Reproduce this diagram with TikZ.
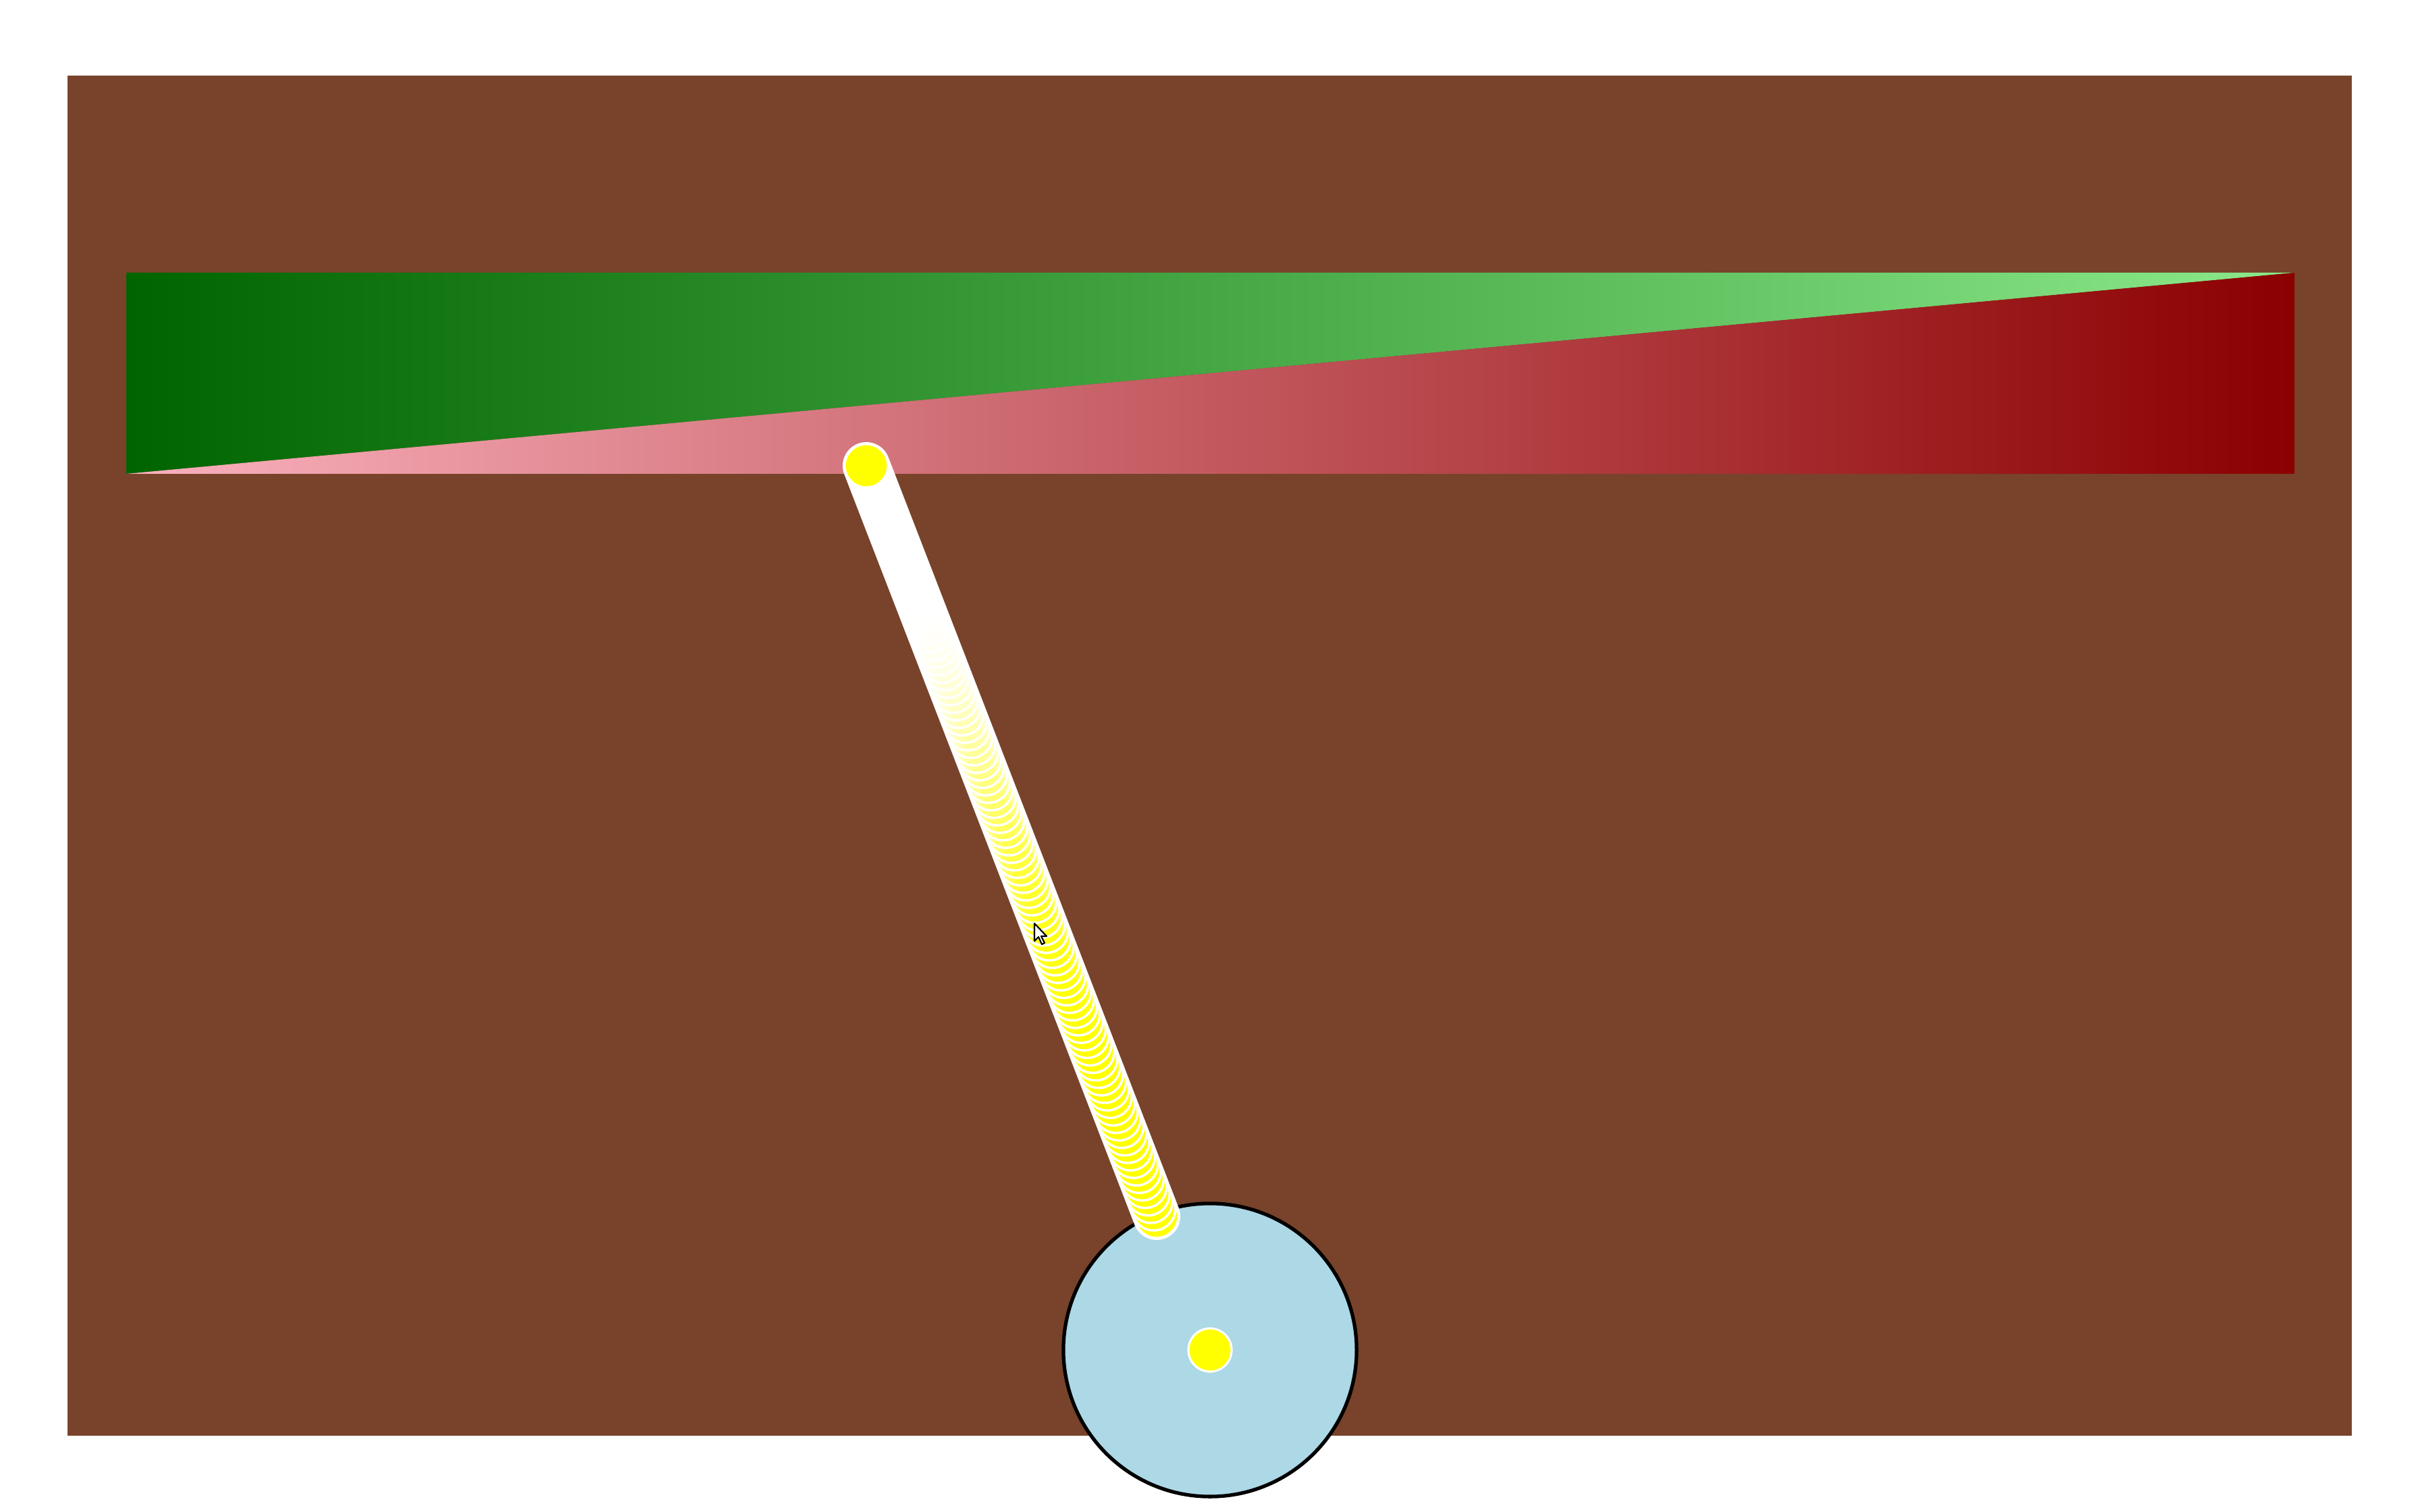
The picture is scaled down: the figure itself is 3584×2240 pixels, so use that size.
\documentclass[tikz,border=0pt]{standalone}
\usetikzlibrary{calc}
\definecolor{ground}{RGB}{120,67,42}
\definecolor{wheelblue}{RGB}{173,216,230}
\definecolor{darkgrn}{RGB}{0,100,0}
\definecolor{lightgrn}{RGB}{139,233,137}
\definecolor{darkrd}{RGB}{139,0,0}
\definecolor{lightpnk}{RGB}{250,178,190}
\definecolor{pinyellow}{RGB}{255,255,0}

\begin{document}
\begin{tikzpicture}[x=0.01cm,y=-0.01cm,
  joint/.style={fill=pinyellow,draw=white,line width=0.9pt},
  ghost/.style={fill=pinyellow,draw=white,line width=1pt}]
  \useasboundingbox (0,0) rectangle (3584,2240);
  \fill[white] (0,0) rectangle (3584,2240);
  \fill[ground] (100,112) rectangle (3483,2127);
  % track
  \coordinate (tl) at (187,404);
  \coordinate (tr) at (3398,404);
  \coordinate (bl) at (187,702);
  \coordinate (br) at (3398,702);
  \shade[left color=darkgrn,right color=lightgrn] (tl) -- (tr) -- (bl) -- cycle;
  \shade[left color=lightpnk,right color=darkrd] (bl) -- (tr) -- (br) -- cycle;
  % wheel and rod
  \coordinate (pivot) at (1283,690);
  \coordinate (pin) at (1713,1802);
  \coordinate (hub) at (1792,2000);
  \coordinate (cursor) at (1532,1368);
  \draw[fill=wheelblue,line width=1.5pt] (hub) circle[radius=2.17cm];
  \draw[white,line width=0.7cm,line cap=round] (pivot) -- (pin);
  \foreach \i in {0,...,79}{
    \pgfmathsetmacro{\t}{1-0.01*\i}
    \pgfmathsetmacro{\op}{max(0,(\t-0.2)/0.8)^1.6}
    \filldraw[ghost,fill opacity=\op] ($(pivot)!\t!(pin)$) circle[radius=0.32cm];
  }
  \filldraw[joint] (pivot) circle[radius=0.32cm];
  \filldraw[joint] (hub) circle[radius=0.32cm];
  % pointer
  \draw[fill=white,line width=0.6pt,line join=round] (cursor) -- ++(0,26) -- ++(6,-6)
    -- ++(5,11) -- ++(4,-2) -- ++(-5,-10) -- ++(8,0) -- cycle;
\end{tikzpicture}
\end{document}
